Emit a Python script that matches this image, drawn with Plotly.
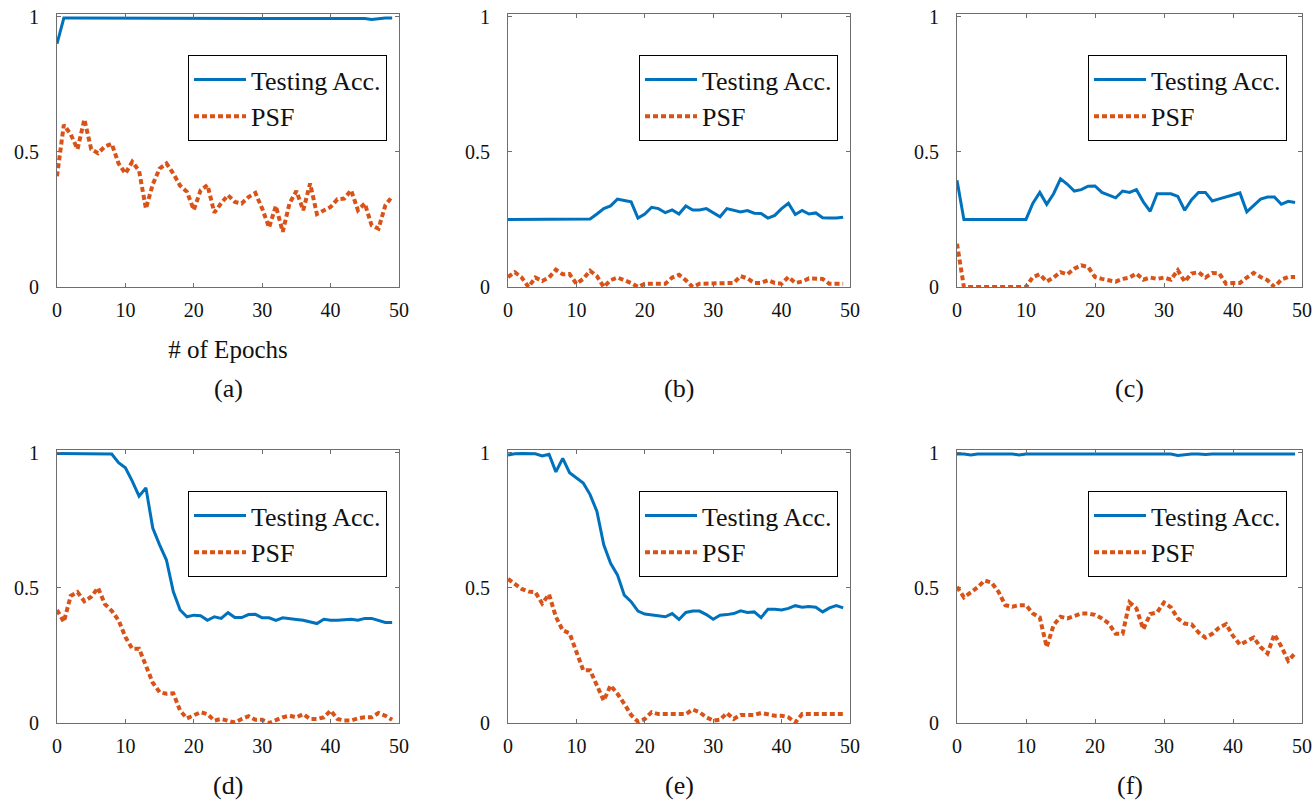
import plotly.graph_objects as go

# ---------------- data ----------------
epochs = list(range(50))
x_tick_vals = [0, 10, 20, 30, 40, 50]
x_tick_text = ["0", "10", "20", "30", "40", "50"]
y_tick_vals = [0, 0.5, 1]
y_tick_text = ["0", "0.5", "1"]
panel_labels = ["(a)", "(b)", "(c)", "(d)", "(e)", "(f)"]
acc_name = "Testing Acc."
psf_name = "PSF"
x_title = "# of Epochs"

acc_a = [0.900, 0.995, 0.995, 0.995, 0.995, 0.995, 0.995, 0.995, 0.995, 0.995,
         0.995, 0.995, 0.995, 0.995, 0.995, 0.995, 0.995, 0.995, 0.995, 0.995,
         0.995, 0.995, 0.995, 0.995, 0.995, 0.995, 0.995, 0.995, 0.995, 0.995,
         0.995, 0.995, 0.995, 0.995, 0.995, 0.995, 0.995, 0.995, 0.995, 0.994,
         0.994, 0.995, 0.995, 0.995, 0.995, 0.993, 0.990, 0.993, 0.995, 0.995]
psf_a = [0.410, 0.600, 0.565, 0.510, 0.620, 0.510, 0.495, 0.520, 0.530, 0.457,
         0.420, 0.463, 0.430, 0.290, 0.380, 0.438, 0.457, 0.420, 0.375, 0.352,
         0.285, 0.358, 0.377, 0.275, 0.310, 0.340, 0.315, 0.309, 0.333, 0.348,
         0.290, 0.220, 0.300, 0.204, 0.310, 0.355, 0.284, 0.383, 0.270, 0.285,
         0.296, 0.325, 0.327, 0.358, 0.284, 0.309, 0.228, 0.216, 0.302, 0.335]

acc_b = [0.250, 0.250, 0.250, 0.250, 0.250, 0.250, 0.250, 0.250, 0.250, 0.250,
         0.252, 0.250, 0.252, 0.270, 0.290, 0.300, 0.325, 0.320, 0.315, 0.255,
         0.270, 0.295, 0.290, 0.275, 0.285, 0.270, 0.300, 0.285, 0.285, 0.290,
         0.275, 0.260, 0.290, 0.285, 0.278, 0.283, 0.273, 0.272, 0.255, 0.265,
         0.290, 0.310, 0.268, 0.283, 0.270, 0.274, 0.256, 0.255, 0.255, 0.258]
psf_b = [0.037, 0.055, 0.035, 0.000, 0.035, 0.022, 0.035, 0.064, 0.047, 0.048,
         0.012, 0.030, 0.060, 0.040, 0.000, 0.025, 0.035, 0.025, 0.015, 0.000,
         0.012, 0.012, 0.012, 0.012, 0.035, 0.045, 0.025, 0.000, 0.012, 0.012,
         0.012, 0.012, 0.012, 0.015, 0.040, 0.032, 0.015, 0.015, 0.025, 0.015,
         0.012, 0.037, 0.015, 0.020, 0.032, 0.032, 0.030, 0.012, 0.012, 0.012]

acc_c = [0.395, 0.250, 0.250, 0.250, 0.250, 0.250, 0.250, 0.250, 0.250, 0.250,
         0.250, 0.310, 0.350, 0.306, 0.345, 0.400, 0.380, 0.355, 0.360, 0.373,
         0.374, 0.350, 0.340, 0.330, 0.355, 0.350, 0.360, 0.315, 0.280, 0.345,
         0.345, 0.345, 0.335, 0.284, 0.323, 0.350, 0.350, 0.318, 0.326, 0.333,
         0.340, 0.348, 0.278, 0.300, 0.325, 0.333, 0.333, 0.306, 0.317, 0.313]
psf_c = [0.160, 0.000, 0.000, 0.000, 0.000, 0.000, 0.000, 0.000, 0.000, 0.000,
         0.000, 0.037, 0.047, 0.020, 0.035, 0.055, 0.047, 0.068, 0.080, 0.074,
         0.037, 0.030, 0.025, 0.020, 0.030, 0.035, 0.050, 0.027, 0.035, 0.030,
         0.035, 0.027, 0.062, 0.020, 0.050, 0.055, 0.035, 0.052, 0.050, 0.012,
         0.015, 0.015, 0.035, 0.052, 0.037, 0.025, 0.000, 0.027, 0.037, 0.037]

acc_d = [0.997, 0.997, 0.997, 0.997, 0.997, 0.997, 0.997, 0.995, 0.995, 0.963,
         0.944, 0.895, 0.839, 0.870, 0.721, 0.659, 0.603, 0.486, 0.418, 0.393,
         0.399, 0.397, 0.380, 0.393, 0.387, 0.408, 0.390, 0.390, 0.401, 0.402,
         0.389, 0.389, 0.380, 0.389, 0.387, 0.383, 0.380, 0.374, 0.368, 0.384,
         0.380, 0.380, 0.383, 0.384, 0.380, 0.387, 0.387, 0.380, 0.372, 0.372]
psf_d = [0.418, 0.374, 0.470, 0.484, 0.450, 0.467, 0.500, 0.440, 0.415, 0.380,
         0.318, 0.275, 0.275, 0.213, 0.149, 0.114, 0.108, 0.110, 0.046, 0.017,
         0.027, 0.040, 0.033, 0.009, 0.015, 0.009, 0.002, 0.015, 0.025, 0.012,
         0.012, 0.000, 0.012, 0.021, 0.027, 0.021, 0.033, 0.015, 0.015, 0.021,
         0.046, 0.015, 0.009, 0.009, 0.017, 0.021, 0.021, 0.037, 0.027, 0.012]

acc_e = [0.991, 0.996, 0.997, 0.997, 0.996, 0.988, 0.994, 0.929, 0.979, 0.926,
         0.907, 0.888, 0.845, 0.783, 0.659, 0.591, 0.548, 0.473, 0.449, 0.414,
         0.403, 0.399, 0.397, 0.393, 0.405, 0.383, 0.409, 0.414, 0.414, 0.401,
         0.384, 0.399, 0.401, 0.405, 0.415, 0.409, 0.411, 0.390, 0.421, 0.421,
         0.418, 0.424, 0.434, 0.428, 0.431, 0.428, 0.411, 0.426, 0.434, 0.426]
psf_e = [0.533, 0.513, 0.496, 0.486, 0.484, 0.442, 0.476, 0.393, 0.343, 0.332,
         0.263, 0.195, 0.195, 0.139, 0.083, 0.139, 0.108, 0.071, 0.030, 0.005,
         0.015, 0.040, 0.033, 0.033, 0.033, 0.030, 0.033, 0.050, 0.040, 0.021,
         0.009, 0.012, 0.037, 0.015, 0.030, 0.030, 0.030, 0.037, 0.033, 0.027,
         0.027, 0.021, 0.002, 0.033, 0.033, 0.033, 0.033, 0.033, 0.033, 0.033]

acc_f = [0.995, 0.995, 0.992, 0.995, 0.995, 0.995, 0.995, 0.995, 0.995, 0.992,
         0.995, 0.995, 0.995, 0.995, 0.995, 0.995, 0.995, 0.995, 0.995, 0.995,
         0.995, 0.995, 0.995, 0.995, 0.995, 0.995, 0.995, 0.995, 0.995, 0.995,
         0.995, 0.995, 0.990, 0.993, 0.995, 0.995, 0.993, 0.995, 0.995, 0.995,
         0.995, 0.995, 0.993, 0.995, 0.995, 0.995, 0.995, 0.995, 0.995, 0.995]
psf_f = [0.504, 0.465, 0.483, 0.502, 0.527, 0.520, 0.486, 0.436, 0.430, 0.436,
         0.436, 0.405, 0.390, 0.281, 0.362, 0.393, 0.387, 0.397, 0.405, 0.405,
         0.400, 0.387, 0.368, 0.330, 0.330, 0.446, 0.424, 0.347, 0.403, 0.409,
         0.446, 0.428, 0.387, 0.368, 0.365, 0.335, 0.316, 0.330, 0.353, 0.366,
         0.322, 0.290, 0.304, 0.316, 0.281, 0.257, 0.328, 0.283, 0.230, 0.258]

acc_series = [acc_a, acc_b, acc_c, acc_d, acc_e, acc_f]
psf_series = [psf_a, psf_b, psf_c, psf_d, psf_e, psf_f]

# ---------------- layout / style ----------------
W, H = 1316, 804
FONT = "Liberation Serif"
TXT = "#111111"
BLUE = "#0072BD"
ORANGE = "#D95319"
AXIS_COLOR = "#6e6e6e"
col_px = [(57, 399), (508, 850), (957, 1302)]
row_px = [(14, 287), (450, 723)]
caption_y_px = [388, 785]

fig = go.Figure()
layout_updates = {}
annotations = []

for i in range(6):
    r, c = divmod(i, 3)
    k = "" if i == 0 else str(i + 1)
    x0, x1 = col_px[c]
    y0, y1 = row_px[r]
    leg = "legend" + k
    fig.add_trace(go.Scatter(
        x=epochs, y=acc_series[i], mode="lines", name=acc_name,
        line=dict(color=BLUE, width=3),
        xaxis="x" + k, yaxis="y" + k, legend=leg))
    fig.add_trace(go.Scatter(
        x=epochs, y=psf_series[i], mode="lines", name=psf_name,
        line=dict(color=ORANGE, width=4, dash="5px,3px"),
        xaxis="x" + k, yaxis="y" + k, legend=leg))

    axis_common = dict(
        showline=True, linecolor=AXIS_COLOR, linewidth=1, mirror="ticks",
        ticks="inside", ticklen=4, tickcolor=AXIS_COLOR, tickwidth=1,
        showgrid=False, zeroline=False,
        tickfont=dict(family=FONT, size=20, color=TXT),
    )
    xa = dict(axis_common)
    xa.update(domain=[x0 / W, x1 / W], range=[0, 50],
              tickvals=x_tick_vals, ticktext=x_tick_text,
              anchor="y" + k, ticklabelstandoff=5)
    if i == 0:
        xa["title"] = dict(text=x_title, standoff=20,
                           font=dict(family=FONT, size=25, color=TXT))
    ya = dict(axis_common)
    ya.update(domain=[1 - y1 / H, 1 - y0 / H], range=[0, 1.01],
              tickvals=y_tick_vals, ticktext=y_tick_text,
              anchor="x" + k, ticklabelstandoff=13)
    layout_updates["xaxis" + k] = xa
    layout_updates["yaxis" + k] = ya

    layout_updates[leg] = dict(
        x=(x0 + 131) / W, y=1 - (y0 + 41) / H,
        xanchor="left", yanchor="top",
        bgcolor="white", bordercolor="#000000", borderwidth=1,
        font=dict(family=FONT, size=26, color=TXT),
        itemwidth=52, tracegroupgap=0,
    )

    annotations.append(dict(
        text=panel_labels[i], x=(x0 + x1) / 2 / W, y=1 - caption_y_px[r] / H,
        xref="paper", yref="paper", showarrow=False,
        xanchor="center", yanchor="middle",
        font=dict(family=FONT, size=26, color=TXT)))

fig.update_layout(
    template="none",
    width=W, height=H,
    margin=dict(l=0, r=0, t=0, b=0),
    paper_bgcolor="white", plot_bgcolor="white",
    showlegend=True,
    annotations=annotations,
    font=dict(family=FONT),
    **layout_updates,
)

fig.write_html(
    "out.html",
    config={"displayModeBar": False},
    post_script="document.body.style.margin='0';document.body.style.overflow='hidden';",
)
